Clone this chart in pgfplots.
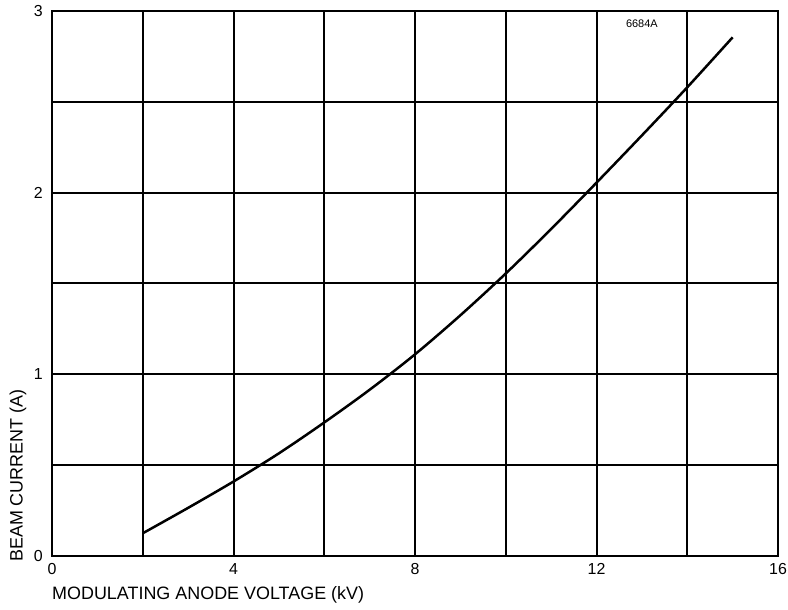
\documentclass[border=0pt]{standalone}
\usepackage{fontspec}
\setmainfont{Liberation Sans}
\usepackage{pgfplots}
\pgfplotsset{compat=1.18}

\begin{document}
\begin{tikzpicture}
\begin{axis}[
    scale only axis,
    width=726bp, height=545bp,
    xmin=0, xmax=16, ymin=0, ymax=3,
    xtick={0,2,...,16},
    xticklabels={0,,4,,8,,12,,16},
    ytick={0,0.5,...,3},
    yticklabels={0,,1,,2,,3},
    major tick length=0pt,
    grid=major,
    major grid style={black, line width=2bp},
    axis line style={black, line width=1.6bp},
    tick label style={font=\fontsize{16}{18}\selectfont, inner sep=0pt},
    /pgf/number format/assume math mode=true,
    xticklabel style={yshift=-7bp},
    yticklabel style={xshift=-9bp},
    xlabel={MODULATING ANODE VOLTAGE (kV)},
    ylabel={BEAM CURRENT (A)},
    label style={font=\fontsize{18}{20}\selectfont, inner sep=0pt},
    xlabel style={at={(rel axis cs:0,-0.079)}, anchor=base west},
    ylabel style={at={(rel axis cs:-0.0468,-0.011)}, anchor=west},
    clip=false,
]
\coordinate (ll) at (rel axis cs:0,0);
\addplot[black, line width=2.5bp, smooth] coordinates {
    (2,0.125) (3,0.265) (4,0.41) (5,0.565) (6,0.735) (7,0.915)
    (8,1.11) (9,1.325) (10,1.555) (11,1.80) (12,2.055) (13,2.315)
    (14,2.58) (15,2.855)
};
\node[font=\fontsize{11}{12}\selectfont, inner sep=0pt] at (axis cs:13,2.93) {6684A};
\end{axis}
\path (ll) ++(-52bp,-54bp) rectangle ++(788bp,610bp);
\end{tikzpicture}
\end{document}
